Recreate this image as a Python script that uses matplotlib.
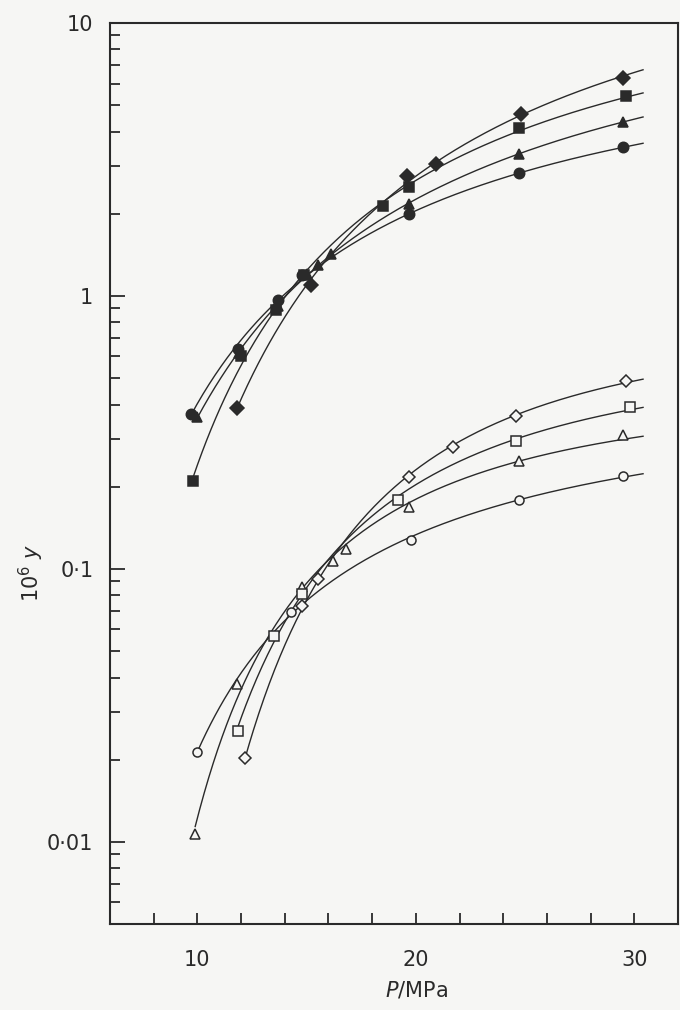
import numpy as np
import matplotlib
matplotlib.use("Agg")
import matplotlib.pyplot as plt
from matplotlib.ticker import FixedLocator, LogLocator, NullFormatter, FixedFormatter

# ---- data (P / MPa, 10^6 y) ----
fc_P = [9.7, 11.85, 13.7, 14.8, 19.7, 24.7, 29.5]
fc_y = [0.37, 0.64, 0.97, 1.19, 1.99, 2.81, 3.50]

ft_P = [10.0, 11.9, 13.7, 15.0, 15.5, 16.1, 19.7, 24.7, 29.5]
ft_y = [0.36, 0.62, 0.92, 1.20, 1.30, 1.42, 2.18, 3.32, 4.33]

fs_P = [9.8, 12.0, 13.6, 14.9, 18.5, 19.7, 24.7, 29.6]
fs_y = [0.21, 0.60, 0.89, 1.19, 2.14, 2.51, 4.11, 5.39]

fd_P = [11.8, 15.2, 19.6, 20.9, 24.8, 29.5]
fd_y = [0.39, 1.10, 2.74, 3.05, 4.64, 6.28]

oc_P = [10.0, 14.3, 19.8, 24.7, 29.5]
oc_y = [0.0213, 0.0695, 0.128, 0.179, 0.219]

ot_P = [9.9, 11.8, 14.8, 16.2, 16.8, 19.7, 24.7, 29.5]
ot_y = [0.0107, 0.0378, 0.086, 0.107, 0.118, 0.168, 0.249, 0.31]

os_P = [11.85, 13.5, 14.8, 19.2, 24.6, 29.8]
os_y = [0.0255, 0.057, 0.081, 0.179, 0.295, 0.391]

od_P = [12.2, 14.8, 15.5, 19.7, 21.7, 24.6, 29.6]
od_y = [0.0202, 0.073, 0.092, 0.217, 0.279, 0.364, 0.49]

x_major = [10, 20, 30]
x_ticks = list(range(8, 31, 2))
y_ticks = [0.01, 0.1, 1, 10]
y_labels = ["0\u00b701", "0\u00b71", "1", "10"]

# ---- figure ----
bg = "#f6f6f4"
ink = "#2a2a2a"
fig = plt.figure(figsize=(6.8, 10.1), dpi=100, facecolor=bg)
ax = fig.add_axes([110/680, 1 - 924/1010, (678-110)/680, (924-23)/1010])
ax.set_facecolor(bg)
ax.set_yscale("log")
ax.set_xlim(6, 32)
ax.set_ylim(0.005, 10)


def curve(P, y, ax, marker, filled, ms):
    P = np.asarray(P, float)
    y = np.asarray(y, float)
    u, ly = 1.0 / P, np.log10(y)
    c = np.polyfit(u, ly, 2)
    xs = np.linspace(P.min(), 30.4, 300)
    ax.plot(xs, 10 ** np.polyval(c, 1.0 / xs), color=ink, lw=1.0, zorder=2)
    ax.plot(P, y, linestyle="none", marker=marker, ms=ms,
            mfc=ink if filled else bg, mec=ink, mew=1.1, zorder=3)


curve(fc_P, fc_y, ax, "o", True, 7.5)
curve(ft_P, ft_y, ax, "^", True, 7.5)
curve(fs_P, fs_y, ax, "s", True, 7)
curve(fd_P, fd_y, ax, "D", True, 7.5)
curve(oc_P, oc_y, ax, "o", False, 6.5)
curve(ot_P, ot_y, ax, "^", False, 6.5)
curve(os_P, os_y, ax, "s", False, 6.5)
curve(od_P, od_y, ax, "D", False, 6.5)

# ticks
ax.xaxis.set_major_locator(FixedLocator(x_ticks))
ax.set_xticklabels([str(t) if t in x_major else "" for t in x_ticks])
ax.yaxis.set_major_locator(FixedLocator(y_ticks))
ax.yaxis.set_major_formatter(FixedFormatter(y_labels))
ax.yaxis.set_minor_locator(LogLocator(base=10, subs=np.arange(2, 10), numticks=20))
ax.yaxis.set_minor_formatter(NullFormatter())
ax.tick_params(axis="x", direction="in", length=8, width=1.3, colors=ink,
               labelsize=15, pad=19, top=False)
ax.tick_params(axis="y", which="major", direction="in", length=11, width=1.3,
               colors=ink, labelsize=15, pad=12, right=False)
ax.tick_params(axis="y", which="minor", direction="in", length=7, width=1.3,
               colors=ink, right=False)
for s in ax.spines.values():
    s.set_color(ink)
    s.set_linewidth(1.5)

ax.set_xlabel(r"$P$/MPa", fontsize=15, color=ink, labelpad=2)
ax.xaxis.set_label_coords(0.54, -0.062)
ax.set_ylabel(r"10$^6$ $y$", fontsize=15, color=ink)
ax.yaxis.set_label_coords(-0.113, 0.39)

fig.savefig("out.png", dpi=100, facecolor=bg)
